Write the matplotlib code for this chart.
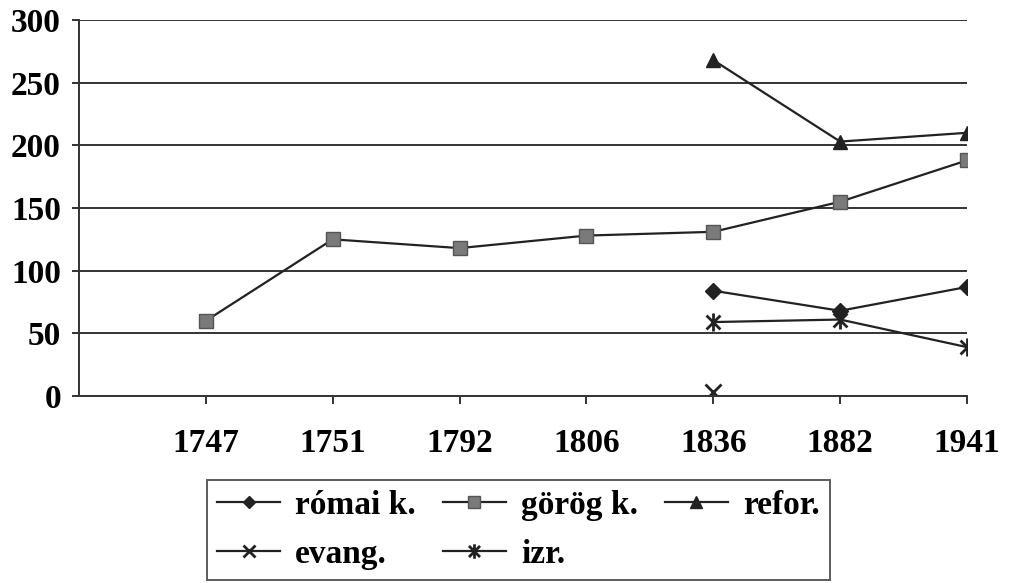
import matplotlib.pyplot as plt
import numpy as np
from matplotlib.path import Path

years = ["1747", "1751", "1792", "1806", "1836", "1882", "1941"]
romai = [None, None, None, None, 84, 68, 87]
gorog = [60, 125, 118, 128, 131, 155, 188]
refor = [None, None, None, None, 268, 203, 210]
evang = [None, None, None, None, 3, None, None]
izr = [None, None, None, None, 59, 61, 39]

plt.rcParams['font.family'] = ['Liberation Serif', 'DejaVu Serif']
plt.rcParams['font.weight'] = 'bold'

# star marker: an x with a vertical bar
star = Path([(-1, -1), (1, 1), (-1, 1), (1, -1), (0, -1.3), (0, 1.3)],
            [Path.MOVETO, Path.LINETO, Path.MOVETO, Path.LINETO, Path.MOVETO, Path.LINETO])

def arr(v):
    return np.array([np.nan if x is None else x for x in v], dtype=float)

x = np.arange(1, len(years) + 1)
lc = '#222222'

fig = plt.figure(figsize=(10.1, 5.83), dpi=100)
ax = fig.add_axes([79 / 1010, 1 - 396 / 583, (967 - 79) / 1010, (396 - 20) / 583])

h1, = ax.plot(x, arr(romai), color=lc, lw=1.6, marker='D', ms=8, mfc=lc, mec=lc, label='római k.')
h2, = ax.plot(x, arr(gorog), color=lc, lw=1.6, marker='s', ms=10, mfc='#7a7a7a', mec='#555555', label='görög k.')
h3, = ax.plot(x, arr(refor), color=lc, lw=1.6, marker='^', ms=10, mfc=lc, mec=lc, label='refor.')
h4, = ax.plot(x, arr(evang), color=lc, lw=1.6, marker='x', ms=11, mew=2, mec=lc, label='evang.')
h5, = ax.plot(x, arr(izr), color=lc, lw=1.6, marker=star, ms=13, mew=2, mec=lc, label='izr.')

ax.set_xlim(0, 7)
ax.set_ylim(0, 300)
ax.set_yticks(np.arange(0, 301, 50))
ax.set_xticks(x)
ax.set_xticklabels(years)
ax.yaxis.grid(True, color='#333333', lw=1.4)
ax.set_axisbelow(True)
for s in ['top', 'right']:
    ax.spines[s].set_visible(False)
for s in ['left', 'bottom']:
    ax.spines[s].set_color('#333333')
    ax.spines[s].set_linewidth(1.4)
ax.tick_params(axis='y', labelsize=24, length=5, width=1.4, color='#333333', pad=8)
ax.tick_params(axis='x', labelsize=24, length=6, width=1.4, color='#333333', pad=17)

leg = fig.legend([h1, h4, h2, h5, h3],
                 ['római k.', 'evang.', 'görög k.', 'izr.', 'refor.'],
                 ncol=3, loc='lower left', bbox_to_anchor=(207 / 1010, 3 / 583),
                 fontsize=24, frameon=True, fancybox=False, edgecolor='#333333',
                 handlelength=1.9, handletextpad=0.45, columnspacing=0.8,
                 labelspacing=0.55, borderpad=0.3, borderaxespad=0, markerscale=0.8)
leg.get_frame().set_linewidth(1.4)

fig.savefig('out.png', dpi=100)
